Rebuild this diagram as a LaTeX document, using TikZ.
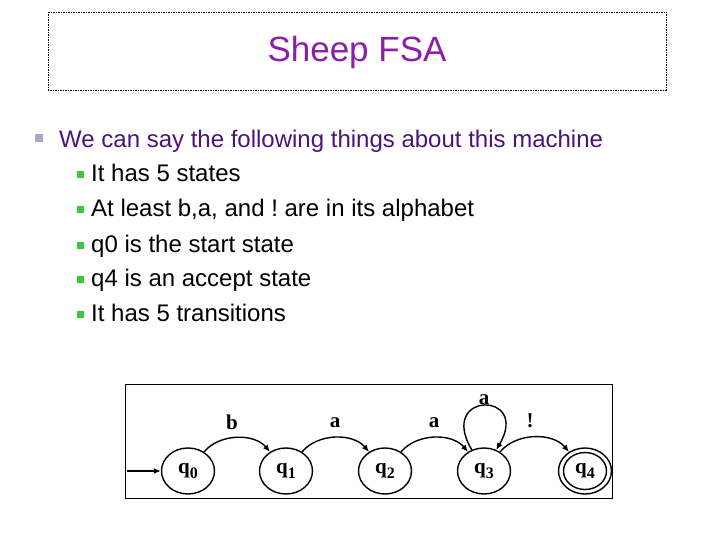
\documentclass[tikz,border=0pt]{standalone}
\usepackage{fontspec}
\setmainfont{Liberation Sans}
\newfontfamily\fsafont{Liberation Serif}
\usetikzlibrary{arrows.meta,shapes.geometric}
\definecolor{titlepurple}{RGB}{140,30,170}
\definecolor{bodypurple}{RGB}{75,20,125}
\definecolor{greybullet}{RGB}{170,170,200}
\definecolor{greenbullet}{RGB}{60,200,60}
\frenchspacing
\begin{document}
\begin{tikzpicture}[x=1pt,y=-1pt,
  titlebox/.style={draw=black, line width=0.8pt, dash pattern=on 1.5pt off 1pt},
  lvlone/.style={anchor=base west, text=bodypurple, font=\fontsize{24}{24}\selectfont, inner sep=0pt},
  lvltwo/.style={anchor=base west, text=black, font=\fontsize{24}{24}\selectfont, inner sep=0pt},
  gbullet/.style={fill=greybullet, minimum size=8pt, inner sep=0pt},
  sbullet/.style={fill=greenbullet, minimum size=7pt, inner sep=0pt},
  state/.style={draw, line width=1.4pt, ellipse, minimum width=53pt, minimum height=46pt, inner sep=0pt, font=\fsafont\bfseries\fontsize{21}{21}\selectfont},
  inner/.style={draw, line width=1.4pt, ellipse, minimum width=43pt, minimum height=37pt, inner sep=0pt},
  edge/.style={line width=1.4pt, -{Latex[length=7pt,width=6pt]}},
  elabel/.style={font=\fsafont\bfseries\fontsize{21}{21}\selectfont, inner sep=0pt}
]
\useasboundingbox (0,0) rectangle (720,540);
% title
\draw[titlebox] (48,12) rectangle (666,90);
\node[text=titlepurple, font=\fontsize{35}{35}\selectfont] (title) at (357,52) {Sheep FSA};
% bullets
\node[gbullet] (b0) at (39,138) {};
\node[lvlone] (l0) at (59,148) {We can say the following things about this machine};
\foreach \i/\t [count=\k from 0] in {182/It has 5 states, 217/{At least b,a, and ! are in its alphabet}, 252/q0 is the start state, 286/q4 is an accept state, 321/It has 5 transitions}{
  \node[sbullet] (s\k) at (80,\i-7) {};
  \node[lvltwo] (t\k) at (91,\i) {\t};
}
% FSA frame
\draw[line width=0.8pt] (125,384) rectangle (612,498);
\newcommand{\qlab}[1]{q\raisebox{-5pt}{\fontsize{16}{16}\selectfont #1}}
\node[state] (q0) at (188,471) {\qlab{0}};
\node[state] (q1) at (286,471) {\qlab{1}};
\node[state] (q2) at (385,471) {\qlab{2}};
\node[state] (q3) at (484,471) {\qlab{3}};
\node[state] (q4) at (585,471) {\qlab{4}};
\node[inner] (q4in) at (q4.center) {};
\coordinate (start) at (127,471);
\draw[edge] (start) -- (q0);
\draw[edge] (q0) to[out=50,in=130,looseness=0.95] (q1);
\draw[edge] (q1) to[out=50,in=130,looseness=0.95] (q2);
\draw[edge] (q2) to[out=50,in=130,looseness=0.95] (q3);
\draw[edge] (q3) to[out=50,in=130,looseness=0.95] (q4);
\draw[edge] (q3.120) .. controls +(-35,-59) and +(35,-59) .. (q3.60);
\node[elabel] (lb) at (232,422) {b};
\node[elabel] (la1) at (335,423) {a};
\node[elabel] (la2) at (434,423) {a};
\node[elabel] (lex) at (530,421) {!};
\node[elabel] (la3) at (484,400) {a};
\end{tikzpicture}
\end{document}
